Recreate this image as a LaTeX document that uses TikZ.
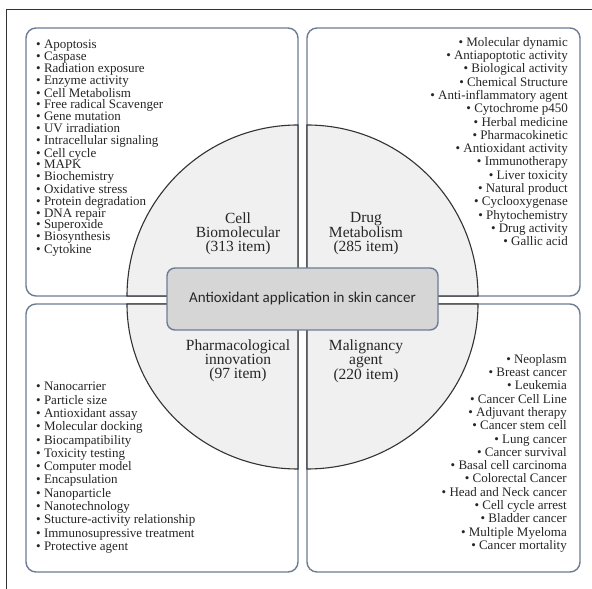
\documentclass[tikz,border=0pt]{standalone}
\usepackage{fontspec}
\setmainfont{Liberation Serif}
\newfontfamily\hubfont{Carlito}
\newcommand{\bitem}{\textbullet\ }

\begin{document}
\begin{tikzpicture}[x=1pt,y=1pt,
  quadbox/.style={draw={rgb,255:red,108;green,124;blue,148}, line width=1.4pt, rounded corners=10pt, fill=white},
  slice/.style={draw=black!80, line width=1.1pt, fill=black!6},
  listtext/.style={font=\fontsize{13}{11.8}\selectfont, text=black!85, inner sep=0pt},
  listwide/.style={font=\fontsize{13}{13.3}\selectfont, text=black!85, inner sep=0pt},
  slicelabel/.style={font=\fontsize{15.5}{14}\selectfont, text=black!85, align=center, inner sep=0pt}]
\useasboundingbox (0,0) rectangle (592,589);
% outer frame
\draw[black!80, line width=0.9pt] (6,0) -- (6,580) -- (592,580);
% four quadrant boxes
\draw[quadbox] (26,293) rectangle (298,561);
\draw[quadbox] (307,293) rectangle (580,561);
\draw[quadbox] (26,17) rectangle (298,285);
\draw[quadbox] (307,17) rectangle (580,285);
% circle split in quarters
\draw[slice] (298,293) -- ++(-171,0) arc[start angle=180, end angle=90, radius=171] -- cycle;
\draw[slice] (307,293) -- ++(0,171) arc[start angle=90, end angle=0, radius=171] -- cycle;
\draw[slice] (298,285) -- ++(-171,0) arc[start angle=180, end angle=270, x radius=171, y radius=165] -- cycle;
\draw[slice] (307,285) -- ++(171,0) arc[start angle=0, end angle=-90, x radius=171, y radius=165] -- cycle;
% centre box
\node[draw={rgb,255:red,108;green,124;blue,148}, line width=1.4pt, rounded corners=8pt, fill=black!16,
  minimum width=271pt, minimum height=62pt, font=\hubfont\fontsize{15}{15}\selectfont, text=black!85]
  (hub) at (302.5,290) {Antioxidant application in skin cancer};
% quarter labels
\node[slicelabel] (cell) at (238,355) {Cell\\Biomolecular\\(313 item)};
\node[slicelabel] (drug) at (366,355) {Drug\\Metabolism\\(285 item)};
\node[slicelabel] (pharm) at (238,228) {Pharmacological\\innovation\\(97 item)};
\node[slicelabel] (malig) at (366,228) {Malignancy\\agent\\(220 item)};
% keyword lists
\node[listtext, align=left, anchor=north west] (celllist) at (36,549) {%
\bitem Apoptosis\\ \bitem Caspase\\ \bitem Radiation exposure\\ \bitem Enzyme activity\\
\bitem Cell Metabolism\\ \bitem Free radical Scavenger\\ \bitem Gene mutation\\
\bitem UV irradiation\\ \bitem Intracellular signaling\\ \bitem Cell cycle\\ \bitem MAPK\\
\bitem Biochemistry\\ \bitem Oxidative stress\\ \bitem Protein degradation\\
\bitem DNA repair\\ \bitem Superoxide\\ \bitem Biosynthesis\\ \bitem Cytokine};
\node[listwide, align=right, anchor=north east] (druglist) at (568,552) {%
\bitem Molecular dynamic\\ \bitem Antiapoptotic activity\\ \bitem Biological activity\\
\bitem Chemical Structure\\ \bitem Anti-inflammatory agent\\ \bitem Cytochrome p450\\
\bitem Herbal medicine\\ \bitem Pharmacokinetic\\ \bitem Antioxidant activity\\
\bitem Immunotherapy\\ \bitem Liver toxicity\\ \bitem Natural product\\
\bitem Cyclooxygenase\\ \bitem Phytochemistry\\ \bitem Drug activity\\ \bitem Gallic acid};
\node[listwide, align=left, anchor=north west] (pharmlist) at (36,207) {%
\bitem Nanocarrier\\ \bitem Particle size\\ \bitem Antioxidant assay\\
\bitem Molecular docking\\ \bitem Biocampatibility\\ \bitem Toxicity testing\\
\bitem Computer model\\ \bitem Encapsulation\\ \bitem Nanoparticle\\
\bitem Nanotechnology\\ \bitem Stucture-activity relationship\\
\bitem Immunosupressive treatment\\ \bitem Protective agent};
\node[listwide, align=right, anchor=north east] (maliglist) at (567,235) {%
\bitem Neoplasm\\ \bitem Breast cancer\\ \bitem Leukemia\\ \bitem Cancer Cell Line\\
\bitem Adjuvant therapy\\ \bitem Cancer stem cell\\ \bitem Lung cancer\\
\bitem Cancer survival\\ \bitem Basal cell carcinoma\\ \bitem Colorectal Cancer\\
\bitem Head and Neck cancer\\ \bitem Cell cycle arrest\\ \bitem Bladder cancer\\
\bitem Multiple Myeloma\\ \bitem Cancer mortality};
\end{tikzpicture}
\end{document}
